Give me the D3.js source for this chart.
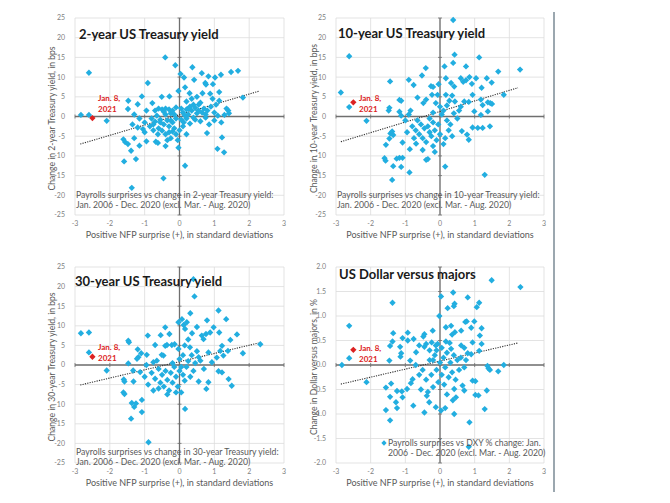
<!DOCTYPE html>
<html><head><meta charset="utf-8">
<script src="https://cdn.jsdelivr.net/npm/d3@7"></script>
<style>
body{margin:0;background:#fff;}
svg{display:block;font-family:Lato, "Open Sans", sans-serif;}
</style></head>
<body><svg id="c" width="670" height="503"></svg>
<script>
// ---------- data ----------
const xTicks = [-3,-2,-1,0,1,2,3];
const yTicksBps = [-25,-20,-15,-10,-5,0,5,10,15,20,25];
const yTicksPct = [-2.0,-1.5,-1.0,-0.5,0.0,0.5,1.0,1.5,2.0];

const titles = ["2-year US Treasury yield","10-year US Treasury yield","30-year US Treasury yield","US Dollar versus majors"];
const yTitles = ["Change in 2-year Treasury yield, in bps","Change in 10-year Treasury yield, in bps","Change in 30-year Treasury yield, in bps","Change in Dollar versus majors, in %"];
const xTitle = "Positive NFP surprise (+), in standard deviations";
const captions = [
  ["Payrolls surprises vs change in 2-year Treasury yield:","Jan. 2006 - Dec. 2020 (excl. Mar. - Aug. 2020)"],
  ["Payrolls surprises vs change in 10-year Treasury yield:","Jan. 2006 - Dec. 2020 (excl. Mar. - Aug. 2020)"],
  ["Payrolls surprises vs change in 30-year Treasury yield:","Jan. 2006 - Dec. 2020 (excl. Mar. - Aug. 2020)"],
  ["Payrolls surprises vs DXY % change: Jan.","2006 - Dec. 2020 (excl. Mar. - Aug. 2020)"]
];
const highlightLabel = ["Jan. 8,","2021"];
// Jan. 8, 2021 observation [x, y]
const highlight = [[-2.5,-0.4],[-2.5,3.6],[-2.5,2.1],[-2.5,0.31]];
// trend line endpoints [[x1,y1],[x2,y2]]
const trends = [
  [[-2.85,-7.0],[2.27,6.4]],
  [[-2.86,-6.4],[2.25,7.3]],
  [[-2.85,-5.1],[2.27,5.6]],
  [[-2.86,-0.39],[2.25,0.45]]
];

const y2 = [[-2.83,0.4],[-2.6,0.4],[-2.6,11.1],[-2.09,-1.1],
[-1.47,4.0],[-1.48,1.9],[-1.2,3.1],[-1.08,5.1],[-0.91,8.5],[-1.3,0.5],[-1.15,-0.5],[-1.35,-2.0],[-1.2,-2.8],[-1.0,-1.5],[-0.95,1.5],[-1.59,-11.4],[-1.25,-10.8],[-1.37,-18.1],[-1.39,-8.7],[-1.15,-7.4],[-1.61,-5.8],[-1.56,-6.5],[-1.48,-7.0],[-1.3,-5.5],[-1.0,-4.0],[-0.95,-6.3],[-1.05,-3.2],
[-0.78,3.4],[-0.51,5.0],[-0.29,5.1],[-0.41,15],[-0.12,13],[-0.7,1.5],[-0.6,2.0],[-0.5,1.8],[-0.45,1.2],[-0.4,2.0],[-0.3,1.8],[-0.25,0.8],[-0.2,1.5],[-0.15,0.5],[-0.65,0.2],[-0.8,-0.5],[-0.7,-1.3],[-0.55,-0.8],[-0.45,-2.0],[-0.35,-1.0],[-0.3,-2.5],[-0.2,-1.5],[-0.15,-3.0],[-0.1,-0.5],[-0.6,-3.0],[-0.75,-3.5],[-0.5,-3.6],[-0.4,-4.5],[-0.3,-4.0],[-0.25,-5.5],[-0.1,-4.5],[-0.68,-6.4],[-0.62,-6.7],[-0.4,-7.5],[-0.35,-6.0],[-0.46,-15.7],[-0.03,-7.9],[-0.05,-6.0],[-0.85,-2.5],[-0.2,-3.8],
[0.03,10.8],[0.13,9.9],[0.37,12.5],[0.64,11],[0.83,10.2],[1.02,9.9],[1.19,10.6],[1.48,11.3],[1.68,11.6],[0.16,7.4],[0.42,9.3],[0.74,8.5],[0.76,8.1],[0.96,8.2],[0.29,5.9],[-0.03,6.5],[0.66,5.9],[0.88,5.8],[1.14,6.2],[1.14,4.0],[1.82,4.8],[1.4,1.5],[1.35,2.0],[1.42,0.8],[1.29,0.4],[0.05,2.0],[0.1,1.0],[0.15,0.3],[0.2,1.8],[0.25,0.5],[0.3,2.5],[0.35,1.5],[0.4,3.0],[0.45,2.2],[0.5,0.8],[0.55,1.5],[0.6,3.5],[0.7,2.0],[0.75,0.5],[0.8,1.5],[0.9,2.5],[1.0,1.0],[1.05,3.0],[1.1,0.2],[0.05,-0.8],[0.12,-1.5],[0.2,-0.5],[0.3,-1.8],[0.45,-0.8],[0.6,-1.2],[0.75,-0.3],[0.85,-2.0],[1.0,-1.0],[1.2,-1.5],[0.1,-2.5],[0.0,-3.5],[0.16,-12.5],[0.79,-4.2],[1.22,-5.3],[1.09,-8.2],[1.28,-9.1],[0.2,-4.5],[0.35,4.5],[0.5,5.0],[0.95,4.5],[0.2,3.8],
[-0.55,-1.5],[-0.4,0.5],[-0.1,2.3],[0.25,2.0],[0.65,1.0],[-0.75,-2.0],[-0.25,-1.0],[0.4,-0.3],[-0.62,-4.5],[0.55,3.0]];

const y10 = [[0.38,24.5],[-2.62,15.3],[-2.86,6.1],[-2.62,2.4],[-2.12,-1.1],[-1.44,8.9],[-1.48,1.5],[-1.46,2.2],[-1.17,4.2],[-1.12,4.0],[-1.17,1.2],[-1.12,0.2],[-0.9,9.3],[-0.76,8.0],[-0.52,10.4],[-0.41,12.3],[-0.26,7.7],[-0.2,7.5],[-0.04,8.2],[0.13,12.7],[0.38,13.6],[0.42,15.7],[0.75,12.7],[1.13,15],[1.68,11.4],[2.31,11.9],[0.17,9.7],[0.32,8.5],[0.41,7.6],[0.6,9.7],[0.67,8.8],[0.75,9.2],[0.85,10.0],[0.92,8.3],[1.04,9.7],[1.2,7.3],[1.35,9.7],[1.49,8.6],[-0.65,4.8],[-0.48,3.4],[-0.4,4.3],[-0.23,5.5],[-0.12,3.4],[-0.07,5.5],[0.17,5.5],[0.27,4.0],[0.35,5.3],[0.43,3.8],[0.6,2.5],[0.7,3.8],[0.83,3.7],[0.94,5.5],[1.18,4.3],[1.23,2.9],[1.38,3.6],[1.45,3.4],[1.84,5.5],[0.99,1.3],[1.18,0.4],[1.38,1.3],[1.5,3.2],[0.94,-2.8],[1.09,-2.9],[1.23,-2.9],[1.44,-2.5],[0.78,-4.6],[0.83,-5.9],[0.63,-3.7],[0.15,-12.7],[1.29,-14.8],[-0.88,-14.2],[-1.38,-16.1],[-1.6,-10.6],[-1.57,-11.2],[-1.25,-10.7],[-1.17,-10.5],[-1.08,-10.5],[-1.35,-12.6],[-1.12,-12.8],[-1.56,-7.2],[-1.43,-4.3],[-1.38,-3.8],[-1.35,-4.7],[-1.46,-5.6],[-1.08,-6.6],[-0.87,-8.3],[-0.69,-6.9],
[-0.8,-2.5],[-0.7,-3.5],[-0.6,-4.5],[-0.55,-2.0],[-0.5,-5.5],[-0.45,-3.0],[-0.4,-6.5],[-0.35,-2.5],[-0.3,-4.0],[-0.25,-5.0],[-0.2,-1.5],[-0.15,-3.5],[-0.1,-6.0],[-0.05,-2.0],[0.0,-4.5],[-0.5,-8.5],[-0.4,-11.0],[-0.35,-10.8],[-0.2,-7.5],[-0.15,-9.0],[0.1,-7.0],[-0.65,-1.0],[-0.3,-0.5],[0.05,0.5],[0.1,1.5],[0.2,-1.0],[0.3,-2.0],[0.4,0.8],[0.5,-0.5],[0.25,-3.5],[0.55,1.5],[-0.9,0.5],[-1.0,-1.0],[-0.85,1.5],[0.0,2.5],[0.2,2.8],[-0.2,1.0],[0.35,-5.0],[-0.95,-4.0],[-0.75,-5.5],[0.15,-5.5]];

const y30 = [[0.4,21.9],[0.43,17.5],[-2.83,8.1],[-2.6,8.3],[-2.6,3.2],[-2.09,-1.4],[-1.47,6.2],[-1.45,5.8],[-1.47,0.4],[-1.2,4.0],[-1.18,2.0],[-1.22,1.6],[-1.1,3.0],[-0.91,7.5],[-1.33,-1.4],[-1.13,-1.8],[-1.6,-3.7],[-1.58,-4.2],[-1.61,-7.0],[-1.58,-7.4],[-1.32,-4.2],[-1.37,-9.7],[-1.3,-10.7],[-1.25,-9.8],[-1.39,-13.7],[-1.08,-12.0],[-1.08,-8.9],[-0.89,-19.7],[0.16,-11.2],[-0.75,0.7],[-0.65,1.1],[-0.51,2.6],[-0.46,2.4],[-0.41,4.9],[-0.36,5.1],[-0.22,5.1],[-0.14,5.3],[-0.03,4.1],[-0.94,2.6],[-0.41,9.6],[-0.29,7.9],[-0.54,7.6],[-0.7,5.1],[-0.03,10.9],[0.07,11.7],[0.12,10.2],[0.21,10.9],[0.16,9.2],[0.31,13.2],[0.36,8.1],[0.5,9.7],[0.79,11.4],[1.12,13.9],[1.34,11.7],[1.65,7.8],[2.32,5.3],[1.82,3.0],[0.64,7.5],[0.69,6.6],[0.76,7.9],[0.88,8.3],[0.98,9.6],[1.14,8.3],[1.22,4.9],[1.46,6.4],[1.39,3.6],[0.6,1.1],[0.83,3.2],[0.93,0.7],[1.07,1.9],[1.17,3.6],[1.26,2.4],[1.22,-1.9],[1.12,-1.6],[1.41,-3.6],[1.5,-5.3],[0.77,-6.1],[0.83,-4.4],[0.55,-4.2],[0.31,-3.0],
[-0.8,-2.0],[-0.7,-3.5],[-0.6,-1.0],[-0.55,-4.5],[-0.5,-2.5],[-0.45,-5.5],[-0.4,-1.5],[-0.35,-3.8],[-0.3,-6.5],[-0.25,-2.0],[-0.2,-4.5],[-0.15,-0.5],[-0.1,-3.0],[-0.05,-5.5],[0.0,-1.5],[0.05,-7.0],[0.1,-2.5],[0.15,-4.0],[0.2,-0.5],[-0.6,-6.0],[-0.9,-5.0],[-0.75,-6.5],[-0.35,-7.5],[-0.1,-7.0],[0.0,1.5],[0.1,2.5],[0.25,1.0],[0.35,2.5],[0.45,0.5],[0.5,3.5],[0.3,4.5],[-0.2,0.5],[0.05,-0.5],[-1.0,-3.0],[-0.95,0.0],[0.4,-1.5],[0.55,2.0],[0.7,-1.0],[0.15,5.0],[0.25,6.5]];

const usd = [[1.49,1.73],[2.32,1.59],[-1.37,1.27],[-2.62,0.8],[-2.62,0.14],[-2.83,0.0],[-2.12,-0.35],[0.03,1.4],[0.38,1.48],[0.42,1.25],[0.4,1.2],[0.22,1.16],[0.8,1.38],[1.13,1.27],[1.06,1.18],[-0.02,1.0],[0.17,0.77],[0.32,0.8],[0.43,0.67],[0.35,0.62],[0.61,0.7],[0.77,0.89],[0.73,0.88],[0.9,0.76],[0.99,0.89],[1.2,0.75],[1.15,0.6],[0.17,0.48],[0.32,0.33],[0.61,0.4],[0.7,0.35],[0.94,0.46],[1.13,0.29],[1.2,0.43],[0.8,0.24],[0.9,0.22],[-1.35,0.65],[-0.93,0.66],[-0.76,0.53],[-0.45,0.63],[-0.48,0.58],[-0.21,0.7],[-0.24,0.46],[-0.12,0.4],[-0.07,0.43],[-0.6,0.4],[-0.45,0.37],[-0.4,0.43],[-0.69,0.26],[-0.93,0.5],[-1.08,0.55],[-1.37,0.48],[-1.44,0.39],[-1.15,0.37],[-1.12,0.24],[-1.46,0.09],[-1.14,0.17],[-0.86,0.09],[-1.56,-0.46],[-1.41,-0.38],[-1.44,-0.65],[-1.24,-0.53],[-1.1,-0.54],[-0.95,-0.49],[-0.84,-0.37],[-0.79,-0.29],[-1.56,-0.92],[-1.24,-0.88],[-1.44,-1.13],[-1.08,-0.66],[-1.27,-0.76],[-0.77,-0.83],[-0.45,-0.97],[-0.31,-0.76],[-0.38,-0.63],[-0.12,-0.86],[0.03,-0.93],[0.15,-0.88],[0.41,-1.0],[0.85,-1.17],[0.83,-1.67],[1.29,-0.9],[1.35,-0.52],[1.02,-0.61],[1.11,-0.62],[0.94,-0.32],[1.02,-0.33],[1.4,-0.07],[1.44,-0.1],[1.68,-0.13],[1.84,0.0],[1.37,-0.02],[0.65,-0.42],[0.7,-0.52],[0.41,-0.49],[0.37,-0.72],[0.46,-0.66],
[-0.5,-0.1],[-0.4,-0.3],[-0.3,0.1],[-0.25,-0.2],[-0.2,-0.45],[-0.15,0.2],[-0.1,-0.1],[-0.05,-0.35],[0.0,0.05],[0.05,-0.2],[0.1,0.15],[0.12,-0.4],[0.15,-0.05],[0.2,0.25],[0.25,-0.25],[0.3,0.05],[0.35,-0.15],[0.4,0.2],[0.45,-0.3],[0.5,0.1],[0.55,-0.1],[0.6,0.15],[0.7,-0.05],[0.75,0.1],[-0.6,-0.2],[-0.7,0.0],[-0.35,-0.55],[-0.1,0.3],[0.05,0.35],[-0.55,-0.5],[0.2,-0.6],[-0.3,0.3],[0.28,0.45],[-0.2,0.1]];

const series = [y2, y10, y30, usd];

// ---------- layout ----------
const panels = [
  {x:75, y:18, w:209, h:197, yd:[-25,25], yt:yTicksBps, fmt:d3.format("d"), tx:79, ty:34, ytx:52, ann:[98,101], cap:[76,198], leg:false},
  {x:336, y:18, w:208, h:197, yd:[-25,25], yt:yTicksBps, fmt:d3.format("d"), tx:338, ty:33, ytx:314, ann:[359,101], cap:[337,198], leg:false},
  {x:75, y:267, w:209, h:196, yd:[-25,25], yt:yTicksBps, fmt:d3.format("d"), tx:75, ty:281, ytx:52, ann:[98,350], cap:[76,455], leg:false},
  {x:336, y:267, w:208, h:196, yd:[-2,2], yt:yTicksPct, fmt:d3.format(".1f"), tx:339, ty:274, ytx:314, ann:[359,351], cap:[388,446], leg:true}
];

const svg = d3.select("#c");
const blue = "#22aee0", red = "#dc2222", txt = "#595959";
// rhombus marker (square rotated 45 degrees)
const marker = d3.symbol().type(d3.symbolSquare).size(20);

panels.forEach((p, i) => {
  const xs = d3.scaleLinear().domain([-3,3]).range([p.x, p.x + p.w]);
  const ys = d3.scaleLinear().domain(p.yd).range([p.y + p.h, p.y]);
  const g = svg.append("g");

  // gridlines
  g.append("g").selectAll("line").data(xTicks).join("line")
    .attr("x1", d => xs(d)).attr("x2", d => xs(d)).attr("y1", p.y).attr("y2", p.y + p.h)
    .attr("stroke", "#dcdcdc").attr("stroke-width", 0.8);
  g.append("g").selectAll("line").data(p.yt).join("line")
    .attr("y1", d => ys(d)).attr("y2", d => ys(d)).attr("x1", p.x).attr("x2", p.x + p.w)
    .attr("stroke", "#dcdcdc").attr("stroke-width", 0.8);

  // zero axes
  g.append("line").attr("x1", xs(0)).attr("x2", xs(0)).attr("y1", p.y).attr("y2", p.y + p.h)
    .attr("stroke", "#6f6f6f").attr("stroke-width", 1.3);
  g.append("line").attr("y1", ys(0)).attr("y2", ys(0)).attr("x1", p.x).attr("x2", p.x + p.w)
    .attr("stroke", "#6f6f6f").attr("stroke-width", 1.3);
  g.append("g").selectAll("line").data(p.yt).join("line")
    .attr("x1", xs(0) - 2).attr("x2", xs(0) + 2).attr("y1", d => ys(d)).attr("y2", d => ys(d))
    .attr("stroke", "#6f6f6f").attr("stroke-width", 0.8);
  g.append("g").selectAll("line").data(xTicks).join("line")
    .attr("y1", ys(0) - 2).attr("y2", ys(0) + 2).attr("x1", d => xs(d)).attr("x2", d => xs(d))
    .attr("stroke", "#6f6f6f").attr("stroke-width", 0.8);

  // tick labels
  g.append("g").selectAll("text").data(p.yt).join("text")
    .attr("x", p.x - 10).attr("y", d => ys(d)).attr("dy", "0.35em")
    .attr("text-anchor", "end").attr("font-size", 7).attr("fill", "#7f7f7f")
    .text(d => p.fmt(d).replace("\u2212", "-"));
  g.append("g").selectAll("text").data(xTicks).join("text")
    .attr("x", d => xs(d)).attr("y", p.y + p.h + 8.5).attr("dy", "0.35em")
    .attr("text-anchor", "middle").attr("font-size", 7).attr("fill", "#7f7f7f")
    .text(d => d3.format("d")(d).replace("\u2212", "-"));

  // axis titles
  g.append("text").attr("x", p.x + p.w / 2).attr("y", p.y + p.h + 20).attr("dy", "0.35em")
    .attr("text-anchor", "middle").attr("font-size", 9).attr("fill", txt).text(xTitle);
  g.append("text").attr("transform", `translate(${p.ytx},${p.y + p.h / 2 + 2}) rotate(-90)`)
    .attr("dy", "0.35em").attr("text-anchor", "middle").attr("font-size", 8.6).attr("fill", txt)
    .text(yTitles[i]);

  // trend line
  g.append("line")
    .attr("x1", xs(trends[i][0][0])).attr("y1", ys(trends[i][0][1]))
    .attr("x2", xs(trends[i][1][0])).attr("y2", ys(trends[i][1][1]))
    .attr("stroke", "#333").attr("stroke-width", 1.1).attr("stroke-dasharray", "1.2,1.2");

  // points
  g.append("g").selectAll("path").data(series[i]).join("path")
    .attr("d", marker).attr("transform", d => `translate(${xs(d[0])},${ys(d[1])}) rotate(45)`)
    .attr("fill", blue);

  // highlight
  g.append("path").attr("d", marker)
    .attr("transform", `translate(${xs(highlight[i][0])},${ys(highlight[i][1])}) rotate(45)`).attr("fill", red);
  g.append("text").attr("x", p.ann[0]).attr("y", p.ann[1]).attr("font-size", 8).attr("font-weight", "bold")
    .attr("fill", red).text(highlightLabel[0]);
  g.append("text").attr("x", p.ann[0]).attr("y", p.ann[1] + 11).attr("font-size", 8).attr("font-weight", "bold")
    .attr("fill", red).text(highlightLabel[1]);

  // title
  g.append("text").attr("x", p.tx).attr("y", p.ty).attr("dy", "0.35em")
    .attr("font-size", 13).attr("font-weight", "bold").attr("fill", "#1a1a1a").text(titles[i]);

  // caption
  captions[i].forEach((c, k) => {
    g.append("text").attr("x", p.cap[0]).attr("y", p.cap[1] + k * 10)
      .attr("font-size", 8.7).attr("fill", txt).text(c);
  });
  if (p.leg) {
    g.append("path").attr("d", d3.symbol().type(d3.symbolSquare).size(14))
      .attr("transform", `translate(${p.cap[0] - 4},${p.cap[1] - 3}) rotate(45)`).attr("fill", blue);
  }
});

// divider on right
svg.append("line").attr("x1", 554).attr("x2", 554).attr("y1", 12).attr("y2", 492)
  .attr("stroke", "#7a8a94").attr("stroke-width", 1.5);
</script></body></html>
